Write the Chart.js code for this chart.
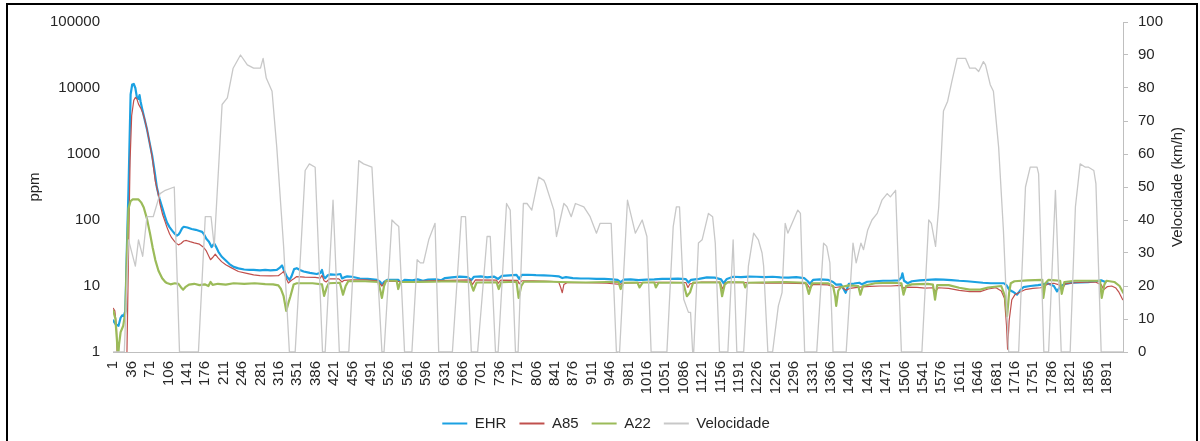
<!DOCTYPE html>
<html>
<head>
<meta charset="utf-8">
<script src="https://cdn.jsdelivr.net/npm/chart.js@4.4.1/dist/chart.umd.min.js"></script>
<style>
  html, body { margin: 0; padding: 0; background: #fff; overflow: hidden; width: 1200px; height: 441px; }
  #wrap { position: relative; width: 1200px; height: 441px; overflow: hidden; }
  #c { position: absolute; left: 6px; top: 0; }
  #frame { position: absolute; left: 6px; top: 3px; width: 1192px; height: 470px; box-sizing: border-box; border: 2px solid #000; pointer-events: none; }
</style>
</head>
<body>
<div id="wrap">
  <canvas id="c" width="1200" height="441" style="width:1200px;height:441px"></canvas>
  <div id="frame"></div>
</div>
<script>
// ---- Data ----
const seriesNames = ['EHR', 'A85', 'A22', 'Velocidade'];
const leftAxisTitle = 'ppm';
const rightAxisTitle = 'Velocidade (km/h)';

const xTickLabels = [1, 36, 71, 106, 141, 176, 211, 246, 281, 316, 351, 386, 421, 456, 491, 526, 561, 596, 631, 666,
  701, 736, 771, 806, 841, 876, 911, 946, 981, 1016, 1051, 1086, 1121, 1156, 1191, 1226, 1261, 1296, 1331, 1366,
  1401, 1436, 1471, 1506, 1541, 1576, 1611, 1646, 1681, 1716, 1751, 1786, 1821, 1856, 1891];
const leftTicks = [1, 10, 100, 1000, 10000, 100000];

// EHR (ppm)
const ehrT = [
  1, 6, 11, 15, 18, 21, 24, 27, 30, 34,
  37, 40, 43, 46, 49, 51, 53, 56, 60, 65,
  70, 75, 80, 84, 89, 94, 99, 103, 108, 113,
  118, 122, 125, 128, 132, 135, 142, 150, 158, 165,
  170, 174, 178, 183, 188, 191, 193, 196, 201, 207,
  214, 222, 230, 239, 250, 260, 268, 280, 290, 300,
  312, 318, 322, 326, 331, 336, 340, 345, 350, 356,
  363, 375, 388, 395, 398, 401, 404, 409, 414, 425,
  433, 436, 440, 446, 455, 470, 485, 503, 509, 512,
  516, 522, 543, 548, 555, 570, 580, 590, 600, 615,
  625, 632, 645, 660, 675, 682, 687, 700, 712, 725,
  733, 740, 755, 768, 773, 778, 790, 805, 820, 835,
  848, 855, 862, 875, 890, 905, 920, 935, 950, 960,
  966, 972, 985, 1000, 1015, 1030, 1045, 1060, 1075, 1090,
  1095, 1100, 1115, 1130, 1145, 1157, 1162, 1168, 1180, 1195,
  1210, 1225, 1240, 1255, 1270, 1285, 1300, 1315, 1322, 1326,
  1332, 1345, 1360, 1370, 1376, 1385, 1394, 1400, 1410, 1420,
  1425, 1435, 1450, 1465, 1480, 1495, 1500, 1502, 1505, 1512,
  1520, 1535, 1550, 1565, 1580, 1595, 1610, 1625, 1640, 1655,
  1670, 1685, 1695, 1700, 1705, 1712, 1720, 1726, 1732, 1745,
  1760, 1770, 1778, 1790, 1796, 1802, 1812, 1825, 1840, 1855,
  1870, 1880, 1888];
const ehrV = [
  3.0, 2.6, 2.5, 3.3, 3.6, 3.5, 4.2, 40, 300, 8000,
  11300, 11500, 10000, 7200, 6800, 7800, 6200, 4800, 3500, 2400,
  1500, 950, 520, 310, 210, 155, 115, 92, 78, 69,
  62, 58, 60, 65, 75, 79, 77, 73, 71, 68,
  66, 60, 52, 47, 39, 42, 44, 40, 33, 28,
  24.7, 21.5, 19.5, 18.5, 17.8, 17.5, 17.5, 17.2, 17.5, 17.3,
  17.5, 19, 20.5, 17, 13.9, 12.4, 14, 18, 18.6, 17.5,
  16.6, 15.8, 15.2, 15.8, 17.5, 14, 13.1, 14.5, 15, 14.8,
  15.2, 13, 13.5, 14, 13.8, 13, 12.8, 12.4, 11.5, 10.4,
  11.5, 12.4, 12.4, 11.2, 12.4, 12.2, 12.6, 12, 12.5, 12.6,
  12.2, 13.2, 13.5, 13.9, 13.6, 12.3, 13.8, 14, 13.5, 13.9,
  12.8, 14.2, 14.5, 14.7, 12.8, 14.7, 14.8, 14.6, 14.5, 14.3,
  14, 13.2, 13.6, 13.2, 13, 13, 12.8, 12.8, 12.6, 12.4,
  11.4, 12.5, 12.6, 12.3, 12.5, 12.6, 12.8, 12.8, 12.9, 12.7,
  11.3, 12.4, 12.8, 13.5, 13.4, 12.6, 11, 12.8, 13.8, 13.6,
  13.9, 13.8, 13.6, 13.8, 13.5, 13.4, 13.6, 13.2, 11.8, 10.8,
  12.4, 12.6, 12.4, 11.5, 10.5, 10.6, 7.9, 10.8, 10.9, 11.2,
  10.6, 11.6, 11.8, 12, 12, 12.2, 13.5, 15.6, 12, 11,
  11.8, 12.2, 12.4, 12.6, 12.5, 12.3, 12, 11.8, 11.5, 11.2,
  11, 11, 11, 10.2, 8.8, 8.2, 7.4, 8.6, 9.6, 10,
  10.3, 10.6, 11, 10, 8.3, 9.8, 10.8, 11.2, 11.3, 11.4,
  11.8, 12.2, 11.5];

// A85 (ppm)
const a85T = [
  1, 4, 7, 10, 26, 30, 33, 36, 40, 43,
  46, 49, 53, 57, 61, 65, 70, 75, 81, 86,
  90, 95, 100, 103, 108, 112, 116, 120, 125, 130,
  135, 140, 147, 155, 165, 172, 178, 183, 186, 190,
  195, 200, 207, 215, 225, 239, 255, 268, 280, 300,
  315, 322, 325, 330, 334, 340, 345, 350, 365, 385,
  395, 398, 402, 406, 412, 430, 436, 440, 455, 480,
  503, 512, 518, 540, 560, 600, 640, 680, 684, 690,
  730, 733, 738, 770, 773, 778, 800, 830, 848, 852,
  855, 858, 864, 900, 940, 965, 970, 1000, 1030, 1060,
  1090, 1094, 1098, 1120, 1155, 1160, 1165, 1200, 1240, 1280,
  1320, 1326, 1332, 1360, 1375, 1385, 1395, 1402, 1420, 1440,
  1460, 1480, 1500, 1504, 1510, 1530, 1545, 1560, 1565, 1570,
  1590, 1610, 1630, 1650, 1665, 1680, 1690, 1696, 1700, 1702,
  1705, 1710, 1716, 1723, 1735, 1750, 1765, 1772, 1780, 1790,
  1800, 1806, 1812, 1830, 1850, 1870, 1880, 1885, 1892, 1900,
  1908, 1914, 1921];
const a85V = [
  4.6, 4.2, 2.5, 0.3, 0.3, 30, 800, 3800, 6500, 7200,
  6800, 5700, 5000, 4200, 3300, 2400, 1500, 900, 385, 260,
  172, 120, 92, 78, 62, 54, 49, 45, 42, 44,
  48, 49, 47, 45, 43, 39, 34, 28, 25, 27,
  30.4, 27, 23.4, 21, 19, 16.6, 15.5, 14.7, 14.4, 14.2,
  14.3, 15.8, 16.6, 13, 11.1, 12.2, 13, 13.9, 13.6, 13.5,
  13.2, 14.5, 12, 11.5, 12.8, 12.8, 11.5, 12.2, 12.4, 12.4,
  12, 10, 11.7, 11.8, 11.5, 12, 12.2, 12.4, 10.5, 12.4,
  12.3, 11, 12.3, 12.2, 10.8, 12, 12, 11.8, 11.6, 9.5,
  7.9, 10.5, 11.2, 11.2, 11, 10.6, 11, 11.2, 11.4, 11.4,
  11.3, 9.5, 10.8, 11.5, 11.5, 9, 11.2, 11.3, 11, 11,
  10.9, 9.2, 10.6, 10.4, 9.5, 9.8, 8.6, 9.2, 9.6, 9.9,
  10, 10, 10.2, 9.3, 9.6, 9.5, 9.3, 9.4, 8.2, 9.4,
  9.2, 8.6, 8.2, 8.2, 9, 9.4, 8.4, 6.5, 2.5, 1.1,
  3, 6.2, 7.4, 7.9, 8.8, 9.2, 9.4, 10, 10.8, 11,
  10.4, 9, 10.8, 11.2, 11.4, 11.4, 10.5, 8.8, 9.8, 10,
  9.3, 8, 6.2];

// A22 (ppm)
const a22T = [
  1, 5, 8, 10, 12, 15, 20, 24, 27, 30,
  34, 38, 43, 49, 54, 59, 65, 71, 76, 81,
  87, 94, 100, 103, 110, 118, 125, 130, 134, 138,
  145, 155, 165, 175, 182, 186, 190, 200, 215, 230,
  250, 270, 290, 305, 315, 320, 325, 330, 334, 338,
  344, 350, 380, 398, 402, 407, 411, 432, 438, 443,
  448, 480, 505, 509, 512, 516, 520, 540, 543, 547,
  580, 610, 640, 680, 686, 692, 730, 734, 739, 768,
  772, 777, 782, 820, 850, 900, 940, 962, 966, 971,
  998, 1002, 1008, 1030, 1033, 1038, 1085, 1092, 1098, 1104,
  1155, 1159, 1164, 1170, 1200, 1203, 1208, 1250, 1280, 1318,
  1324, 1330, 1360, 1370, 1374, 1376, 1380, 1385, 1400, 1418,
  1422, 1427, 1450, 1480, 1500, 1504, 1509, 1520, 1550, 1560,
  1564, 1568, 1590, 1610, 1630, 1650, 1665, 1690, 1697, 1701,
  1705, 1708, 1715, 1740, 1768, 1770, 1774, 1780, 1802, 1805,
  1810, 1830, 1860, 1878, 1881, 1886, 1890, 1905, 1915, 1922];
const a22V = [
  4.2, 3.2, 1.5, 0.8, 1.3, 2, 2.5, 4, 30, 150,
  194, 205, 205, 205, 185, 155, 105, 62, 38, 24.7,
  17, 13.1, 11.5, 11.1, 10.6, 11, 10.8, 9.5, 8.8, 9.6,
  10.5, 10.8, 10.3, 10.6, 10, 11.5, 10.4, 10.8, 10.5, 11,
  10.8, 11, 10.7, 10.6, 10.2, 9, 7, 4.2, 5.5, 7,
  10.5, 11, 11, 10.6, 7.1, 9.5, 11, 11.2, 7.4, 10,
  11.8, 11.8, 11.5, 8.5, 6.6, 10, 12, 12, 9, 11.5,
  11.5, 11.6, 11.8, 11.5, 8.5, 11.3, 11.4, 9, 11.4, 11.6,
  6.6, 10, 11.6, 11.7, 11.5, 11.3, 11.5, 11.5, 9, 11.2,
  11.3, 9.5, 11.3, 11.3, 9.5, 11.2, 11.2, 7, 8, 11.3,
  11.3, 7, 10.5, 11.5, 11.4, 9.5, 11.2, 11.4, 11.5, 11.2,
  7.6, 11, 11, 10, 7, 5, 8.5, 9.6, 10.2, 10,
  7.4, 10, 11, 11.2, 11, 7.4, 10, 10.6, 10.8, 10.5,
  6.2, 10.3, 10.3, 9.4, 8.8, 8.8, 9.5, 10, 7, 3.5,
  8, 11, 11.8, 12.2, 12.4, 6.6, 11, 12.4, 12, 7.6,
  11.5, 12, 12, 12, 6.6, 10.5, 12, 11.5, 10, 7.9];

// Velocidade (km/h)
const velT = [
  1, 22, 30, 43, 49, 57, 65, 77, 90, 100,
  117, 127, 163, 176, 187, 193, 208, 218, 229, 243,
  256, 268, 274, 281, 286, 292, 303, 312, 325, 336,
  347, 366, 374, 385, 399, 404, 419, 431, 449, 468,
  477, 493, 512, 516, 531, 537, 544, 555, 569, 579,
  585, 591, 601, 613, 620, 646, 663, 671, 682, 694,
  712, 718, 728, 733, 749, 756, 766, 771, 781, 788,
  797, 810, 820, 823, 839, 844, 858, 864, 872, 880,
  896, 908, 920, 927, 948, 958, 964, 979, 994, 1007,
  1016, 1024, 1054, 1066, 1072, 1078, 1086, 1095, 1099, 1103,
  1105, 1114, 1121, 1133, 1141, 1146, 1154, 1170, 1180, 1187,
  1200, 1209, 1219, 1228, 1235, 1238, 1246, 1255, 1266, 1273,
  1279, 1284, 1303, 1308, 1316, 1339, 1352, 1358, 1364, 1370,
  1395, 1408, 1414, 1423, 1428, 1436, 1444, 1454, 1463, 1473,
  1479, 1489, 1500, 1539, 1552, 1557, 1565, 1571, 1580, 1588,
  1596, 1606, 1617, 1622, 1630, 1641, 1647, 1656, 1660, 1669,
  1675, 1685, 1694, 1704, 1723, 1736, 1745, 1758, 1761, 1771,
  1780, 1793, 1804, 1821, 1831, 1840, 1850, 1856, 1866, 1870,
  1880, 1921];
const velV = [
  0, 0, 34, 26, 34, 29, 41, 41, 48, 49,
  50, 0, 0, 41, 41, 32, 75, 77, 86, 90,
  87, 86, 86, 86, 89, 83, 79, 62, 32, 0,
  0, 55, 57, 56, 0, 0, 46, 0, 0, 58,
  57, 56, 0, 0, 40, 39, 38, 0, 0, 28,
  27, 27, 34, 39, 0, 0, 41, 41, 0, 0,
  35, 35, 0, 0, 45, 43, 0, 0, 45, 45,
  43, 53, 52, 51, 43, 35, 45, 44, 41, 45,
  44, 41, 36, 39, 39, 0, 0, 46, 36, 40,
  35, 0, 0, 38, 44, 44, 16, 12, 12, 0,
  0, 33, 34, 42, 41, 33, 0, 0, 34, 0,
  0, 26, 36, 34, 30, 26, 0, 0, 14, 18,
  39, 36, 43, 42, 0, 0, 33, 32, 27, 0,
  0, 33, 27, 33, 31, 37, 40, 42, 46, 48,
  47, 49, 0, 0, 40, 39, 32, 44, 73, 76,
  82, 89, 89, 89, 86, 86, 85, 88, 87, 81,
  79, 62, 37, 0, 0, 50, 56, 56, 54, 0,
  0, 49, 0, 0, 44, 57, 56, 56, 55, 51,
  0, 0];

// ---- Styling ----
const FONT = { family: '"Liberation Sans", Arial, Helvetica, sans-serif', size: 15 };
const TEXT = '#262626';
const AXIS = '#bfbfbf';
const colors = ['#1ba1e2', '#c0504d', '#9bbb59', '#c8c8c8'];
const widths = [2.2, 1.2, 2.2, 1.3];

function pts(T, V) { return T.map((t, i) => ({ x: t, y: V[i] })); }

const rightTitlePlugin = {
  id: 'rightTitle',
  afterDraw(chart) {
    const c = chart.ctx;
    const ca = chart.chartArea;
    const s = chart.scales.y1;
    c.save();
    c.translate(s.left + 55, (ca.top + ca.bottom) / 2);
    c.rotate(-Math.PI / 2);
    c.font = FONT.size + 'px ' + FONT.family;
    c.fillStyle = TEXT;
    c.textAlign = 'center';
    c.textBaseline = 'middle';
    c.fillText(rightAxisTitle, 0, 0);
    c.restore();
  }
};

new Chart(document.getElementById('c'), {
  type: 'line',
  data: {
    datasets: [
      { label: seriesNames[0], data: pts(ehrT, ehrV), yAxisID: 'y', borderColor: colors[0], backgroundColor: colors[0], borderWidth: widths[0], order: 4 },
      { label: seriesNames[1], data: pts(a85T, a85V), yAxisID: 'y', borderColor: colors[1], backgroundColor: colors[1], borderWidth: widths[1], order: 3 },
      { label: seriesNames[2], data: pts(a22T, a22V), yAxisID: 'y', borderColor: colors[2], backgroundColor: colors[2], borderWidth: widths[2], order: 2 },
      { label: seriesNames[3], data: pts(velT, velV), yAxisID: 'y1', borderColor: colors[3], backgroundColor: colors[3], borderWidth: widths[3], order: 1 }
    ]
  },
  options: {
    responsive: false,
    animation: false,
    devicePixelRatio: 1,
    layout: { padding: { top: 20, left: 0, right: 0, bottom: 0 } },
    elements: { point: { radius: 0, hoverRadius: 0 }, line: { tension: 0, borderJoinStyle: 'round', borderCapStyle: 'round' } },
    plugins: {
      tooltip: { enabled: false },
      legend: {
        position: 'bottom',
        labels: {
          font: FONT,
          color: TEXT,
          boxWidth: 25,
          boxHeight: 2,
          padding: 13,
          generateLabels: (chart) => chart.data.datasets.map((d, i) => ({
            text: d.label, fillStyle: d.borderColor, strokeStyle: d.borderColor,
            lineWidth: 0, hidden: false, datasetIndex: i, fontColor: TEXT
          }))
        }
      }
    },
    scales: {
      x: {
        type: 'linear',
        min: 0.5,
        max: 1921.5,
        afterBuildTicks: (s) => { s.ticks = xTickLabels.map(v => ({ value: v })); },
        afterFit: (s) => { s.height = 51; },
        grid: { display: false, drawTicks: false },
        border: { display: true, color: AXIS, width: 1 },
        ticks: { autoSkip: false, minRotation: 90, maxRotation: 90, padding: 9, font: FONT, color: TEXT, callback: (v) => String(v) }
      },
      y: {
        type: 'logarithmic',
        position: 'left',
        min: 1,
        max: 100000,
        afterBuildTicks: (s) => { s.ticks = leftTicks.map(v => ({ value: v })); },
        afterFit: (s) => { s.width = 107; },
        grid: { display: false, drawTicks: false },
        border: { display: false },
        ticks: { padding: 13, font: FONT, color: TEXT, callback: (v) => String(v) },
        title: { display: true, text: leftAxisTitle, font: FONT, color: TEXT, padding: { top: 20, bottom: 0 } }
      },
      y1: {
        type: 'linear',
        position: 'right',
        min: 0,
        max: 100,
        afterFit: (s) => { s.width = 83; },
        grid: { display: true, drawOnChartArea: false, drawTicks: true, tickLength: 5, color: AXIS },
        border: { display: true, color: AXIS, width: 1 },
        ticks: { stepSize: 10, padding: 10, font: FONT, color: TEXT }
      }
    }
  },
  plugins: [rightTitlePlugin]
});
</script>
</body>
</html>
